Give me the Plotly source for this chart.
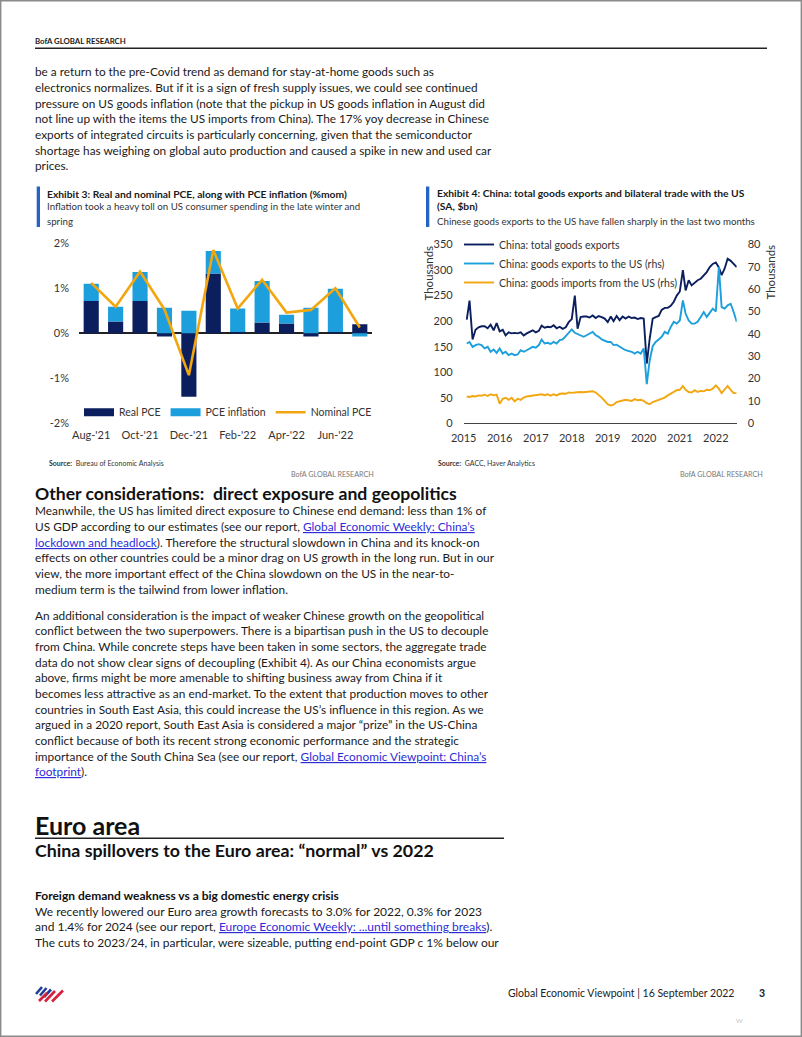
import plotly.graph_objects as go
import pandas as pd

W, H = 802, 1037
FONT = "Lato, 'Open Sans', sans-serif"
TXT = "#1a1a1a"
NAVY = "#0b1f5e"
LBLUE = "#1c9fdc"
ORANGE = "#f2a60f"
LINK = "#2d2dd6"
EXBLUE = "#2563c4"

# ---------------- Exhibit 3 data (% m/m) ----------------
pce_months = ["Aug-'21", "Sep-'21", "Oct-'21", "Nov-'21", "Dec-'21", "Jan-'22",
              "Feb-'22", "Mar-'22", "Apr-'22", "May-'22", "Jun-'22", "Jul-'22"]
real_pce = [0.72, 0.26, 0.72, -0.07, -1.41, 1.33, 0.03, 0.24, 0.22, -0.07, 0.03, 0.20]
pce_inflation = [0.38, 0.33, 0.64, 0.57, 0.50, 0.50, 0.52, 0.92, 0.19, 0.57, 0.96, -0.07]
nominal_pce = [1.12, 0.59, 1.37, 0.53, -0.93, 1.85, 0.55, 1.19, 0.46, 0.52, 1.00, 0.13]
pce_ticks = [-2, -1, 0, 1, 2]

# ---------------- Exhibit 4 data (monthly, Feb 2015 - Aug 2022) ----------------
trade_start = "2015-02-01"
total_exports = [
    203, 240, 164, 183, 188, 190, 190, 186, 193, 182, 196,
    180, 183, 172, 178, 176, 177, 176, 178, 172, 176, 179, 182,
    178, 181, 191, 187, 189, 188, 192, 186, 189, 185, 188, 198,
    204, 250, 185, 208, 209, 209, 207, 211, 206, 210, 208, 205,
    198, 209, 200, 210, 202, 209, 205, 209, 206, 207, 204, 206,
    205, 117, 165, 205, 208, 210, 222, 226, 226, 230, 238, 250,
    258, 300, 260, 280, 270, 275, 280, 283, 289, 296, 306, 312,
    315, 305, 290, 303, 322, 318, 312, 306,
]
exports_to_us = [
    35.7, 36.4, 34.2, 35.0, 35.4, 35.0, 33.5, 34.2, 32.0, 33.0, 31.5,
    33.5, 31.2, 32.0, 30.5, 31.2, 30.5, 30.8, 32.7, 32.0, 32.7, 33.5, 34.2,
    33.8, 35.0, 37.5, 35.7, 36.0, 35.5, 36.4, 35.7, 37.2, 37.5, 39.0, 40.5,
    42.0, 40.5, 40.0, 39.2, 38.7, 39.4, 40.1, 40.9, 39.4, 38.7, 37.5, 36.8,
    36.4, 36.4, 35.0, 35.2, 34.2, 33.5, 32.7, 32.5, 32.0, 31.2, 32.0, 31.2,
    33.5, 17.5, 28.0, 34.5, 36.4, 37.5, 38.7, 40.9, 40.1, 43.1, 45.4, 44.6,
    46.0, 55.0, 49.0, 46.0, 44.6, 44.6, 45.4, 47.6, 49.8, 47.6, 49.8, 51.3,
    50.0, 70.0, 52.0, 51.3, 52.8, 53.5, 49.8, 45.4,
]
imports_from_us = [
    12.0, 11.8, 12.2, 12.0, 12.5, 12.3, 12.8, 12.2, 13.0, 12.5, 12.8,
    8.8, 11.0, 11.4, 10.5, 11.4, 9.8, 11.0, 10.5, 11.5, 12.0, 12.2, 12.4,
    12.5, 12.8, 13.0, 12.6, 13.0, 12.4, 13.0, 12.5, 13.2, 13.3, 13.2, 13.8,
    13.6, 13.8, 14.0, 14.0, 13.9, 14.1, 14.2, 14.3, 13.8, 12.8, 11.5, 10.0,
    8.5, 8.0, 8.3, 9.5, 10.0, 10.2, 10.5, 10.3, 10.0, 10.8, 10.3, 10.5,
    10.0, 9.0, 8.5, 9.5, 10.0, 10.3, 11.0, 11.5, 12.5, 13.3, 14.0, 14.8,
    15.0, 16.7, 15.0, 14.0, 13.8, 14.8, 14.0, 14.5, 14.3, 15.0, 14.8, 15.5,
    17.0, 15.5, 13.5, 15.0, 16.7, 15.0, 13.5, 13.5,
]
trade_dates = pd.date_range(trade_start, periods=len(total_exports), freq="MS")
trade_years = [str(y) for y in range(2015, 2023)]

# ---------------- helpers for page layout ----------------
def fx(x):
    return x / W


def fy(y):
    return 1 - y / H


annotations = []
shapes = []


def text(x, y, s, size=11.5, color=TXT, bold=False, anchor="left", angle=0, family=FONT):
    annotations.append(dict(
        x=fx(x), y=fy(y), xref="paper", yref="paper",
        text=f"<b>{s}</b>" if bold else s, showarrow=False,
        xanchor=anchor, yanchor="middle", textangle=angle,
        font=dict(size=size, color=color, family=family), borderpad=0,
    ))


def link(s):
    return f'<span style="color:{LINK};text-decoration:underline">{s}</span>'


def paragraph(lines, y0, step, size=11.5, x=34):
    for i, ln in enumerate(lines):
        text(x, y0 + i * step, ln, size=size)


def hline(x0, x1, y, color="#222", width=1.5):
    shapes.append(dict(type="line", xref="paper", yref="paper",
                       x0=fx(x0), x1=fx(x1), y0=fy(y), y1=fy(y),
                       line=dict(color=color, width=width)))


def rect(x0, y0, x1, y1, color):
    shapes.append(dict(type="rect", xref="paper", yref="paper",
                       x0=fx(x0), x1=fx(x1), y0=fy(y1), y1=fy(y0),
                       fillcolor=color, line=dict(width=0)))


def stroke(x0, y0, x1, y1, color, width=2.6):
    shapes.append(dict(type="line", xref="paper", yref="paper",
                       x0=fx(x0), x1=fx(x1), y0=fy(y0), y1=fy(y1),
                       line=dict(color=color, width=width)))

# page border
shapes.append(dict(type="rect", xref="paper", yref="paper", x0=fx(0.7), x1=fx(801.3),
                   y0=fy(1036.3), y1=fy(0.7), line=dict(color="#8a8a8a", width=1.4)))

# header
text(34, 41, "BofA GLOBAL RESEARCH", size=7.8, bold=True)
hline(35, 767, 48.3, width=1.6)

para1 = [
    "be a return to the pre-Covid trend as demand for stay-at-home goods such as",
    "electronics normalizes. But if it is a sign of fresh supply issues, we could see continued",
    "pressure on US goods inflation (note that the pickup in US goods inflation in August did",
    "not line up with the items the US imports from China). The 17% yoy decrease in Chinese",
    "exports of integrated circuits is particularly concerning, given that the semiconductor",
    "shortage has weighing on global auto production and caused a spike in new and used car",
    "prices.",
]
paragraph(para1, 71.7, 15.67, size=11.8)

# exhibit headers
rect(36.7, 186.5, 40, 227, EXBLUE)
text(45.5, 193.5, "Exhibit 3: Real and nominal PCE, along with PCE inflation (%mom)", size=10.3, bold=True)
text(45.5, 206.5, "Inflation took a heavy toll on US consumer spending in the late winter and", size=9.7, color="#333")
text(45.5, 220.7, "spring", size=9.7, color="#333")

rect(426, 186.5, 429.3, 227, EXBLUE)
text(435.5, 193.3, "Exhibit 4: China: total goods exports and bilateral trade with the US", size=10.3, bold=True)
text(435.5, 206.3, "(SA, $bn)", size=10.3, bold=True)
text(435.5, 221.3, "Chinese goods exports to the US have fallen sharply in the last two months", size=9.7, color="#333")

# axis titles for exhibit 4
text(428, 272.5, "Thousands", size=11.5, color="#333", anchor="center", angle=-90)
text(770, 272.5, "Thousands", size=11.5, color="#333", anchor="center", angle=-90)

# sources
text(47.5, 463, "<b>Source:</b>  Bureau of Economic Analysis", size=7, color="#333")
text(436.5, 463, "<b>Source:</b>  GACC, Haver Analytics", size=7, color="#333")
text(375, 474, "BofA GLOBAL RESEARCH", size=7.2, color="#777", anchor="right")
text(764, 474, "BofA GLOBAL RESEARCH", size=7.2, color="#777", anchor="right")

# Other considerations
text(34, 493.3, "Other considerations:  direct exposure and geopolitics", size=17.6, bold=True, color="#111")
para2 = [
    "Meanwhile, the US has limited direct exposure to Chinese end demand: less than 1% of",
    "US GDP according to our estimates (see our report, " + link("Global Economic Weekly: China’s"),
    link("lockdown and headlock") + "). Therefore the structural slowdown in China and its knock-on",
    "effects on other countries could be a minor drag on US growth in the long run. But in our",
    "view, the more important effect of the China slowdown on the US in the near-to-",
    "medium term is the tailwind from lower inflation.",
]
paragraph(para2, 511, 15.6, size=11.85)
para3 = [
    "An additional consideration is the impact of weaker Chinese growth on the geopolitical",
    "conflict between the two superpowers. There is a bipartisan push in the US to decouple",
    "from China. While concrete steps have been taken in some sectors, the aggregate trade",
    "data do not show clear signs of decoupling (Exhibit 4). As our China economists argue",
    "above, firms might be more amenable to shifting business away from China if it",
    "becomes less attractive as an end-market. To the extent that production moves to other",
    "countries in South East Asia, this could increase the US’s influence in this region. As we",
    "argued in a 2020 report, South East Asia is considered a major “prize” in the US-China",
    "conflict because of both its recent strong economic performance and the strategic",
    "importance of the South China Sea (see our report, " + link("Global Economic Viewpoint: China’s"),
    link("footprint") + ").",
]
paragraph(para3, 615, 15.67, size=11.85)

# Euro area
text(33.5, 825, "<b>Euro area</b>", size=25, color="#111")
hline(35, 504, 838.3, width=1.6)
text(34, 850, "China spillovers to the Euro area: “normal” vs 2022", size=17.8, bold=True, color="#111")
text(34, 895, "Foreign demand weakness vs a big domestic energy crisis", size=12, bold=True, color="#111")
para4 = [
    "We recently lowered our Euro area growth forecasts to 3.0% for 2022, 0.3% for 2023",
    "and 1.4% for 2024 (see our report, " + link("Europe Economic Weekly: ...until something breaks") + ").",
    "The cuts to 2023/24, in particular, were sizeable, putting end-point GDP c 1% below our",
]
paragraph(para4, 911, 15.67, size=12)

# footer
for (a, b, c, d) in [(36, 994, 42, 987), (40, 995.5, 46.5, 988), (44, 997, 51, 989.5)]:
    stroke(a, b, c, d, "#1f3f99")
for (a, b, c, d) in [(39, 1001, 47, 993), (45, 1001.5, 55, 991), (52, 1001.5, 63, 990.5)]:
    stroke(a, b, c, d, "#d8203a")
text(735, 993.3, "Global Economic Viewpoint | 16 September 2022", size=10.5, color="#222", anchor="right")
text(761.5, 993.3, "3", size=10.5, bold=True, anchor="center")
text(739.5, 1020, "W", size=6.5, color="#c4c4c4", anchor="center")

# ---------------- traces ----------------
fig = go.Figure()

# Exhibit 3 bars + line
fig.add_trace(go.Bar(x=pce_months, y=real_pce, name="Real PCE", marker=dict(color=NAVY, line=dict(width=0)),
                     showlegend=False, xaxis="x", yaxis="y"))
fig.add_trace(go.Bar(x=pce_months, y=pce_inflation, name="PCE inflation", marker=dict(color=LBLUE, line=dict(width=0)),
                     showlegend=False, xaxis="x", yaxis="y"))
fig.add_trace(go.Scatter(x=pce_months, y=nominal_pce, name="Nominal PCE", mode="lines",
                         line=dict(color=ORANGE, width=2.6), showlegend=False, xaxis="x", yaxis="y"))
# legend entries drawn as wide swatches
for nm, col, wd in [("Real PCE", NAVY, 8), ("PCE inflation", LBLUE, 8), ("Nominal PCE", ORANGE, 2.6)]:
    fig.add_trace(go.Scatter(x=[None], y=[None], name=nm, mode="lines", line=dict(color=col, width=wd),
                             xaxis="x", yaxis="y", legend="legend", hoverinfo="skip"))

# Exhibit 4 lines
fig.add_trace(go.Scatter(x=trade_dates, y=total_exports, name="China: total goods exports", mode="lines",
                         line=dict(color=NAVY, width=1.9), xaxis="x2", yaxis="y2", legend="legend2"))
fig.add_trace(go.Scatter(x=trade_dates, y=exports_to_us, name="China: goods exports to the US (rhs)", mode="lines",
                         line=dict(color=LBLUE, width=1.9), xaxis="x2", yaxis="y3", legend="legend2"))
fig.add_trace(go.Scatter(x=trade_dates, y=imports_from_us, name="China: goods imports from the US (rhs)", mode="lines",
                         line=dict(color=ORANGE, width=1.9), xaxis="x2", yaxis="y3", legend="legend2"))

tickfont = dict(family=FONT, size=11, color="#333")

fig.update_layout(
    width=W, height=H, autosize=False,
    margin=dict(l=0, r=0, t=0, b=0, pad=0, autoexpand=False),
    paper_bgcolor="white", plot_bgcolor="rgba(0,0,0,0)",
    font=dict(family=FONT, color=TXT),
    barmode="relative", bargap=0.38,
    xaxis=dict(domain=[fx(79), fx(372)], anchor="y", type="category", automargin=False,
               range=[-0.5, len(pce_months) - 0.5],
               tickmode="array", tickvals=pce_months[::2], ticktext=pce_months[::2],
               showgrid=False, zeroline=False, showline=False, ticks="",
               tickfont=tickfont, ticklabelstandoff=4, fixedrange=True),
    yaxis=dict(domain=[fy(423.3), fy(243.3)], anchor="x", range=[-2, 2], automargin=False,
               tickmode="array", tickvals=pce_ticks, ticktext=[f"{v}%" for v in pce_ticks],
               showgrid=False, zeroline=True, zerolinecolor="#222", zerolinewidth=1.5,
               showline=False, ticks="", tickfont=tickfont, ticklabelstandoff=9, fixedrange=True),
    xaxis2=dict(domain=[fx(463.7), fx(736.7)], anchor="y2", type="date", automargin=False,
                range=["2015-01-01", "2022-08-01"],
                tickmode="array", tickvals=[f"{y}-01-01" for y in trade_years], ticktext=trade_years,
                showgrid=False, zeroline=False, showline=True, linecolor="#444", linewidth=1.3,
                ticks="", tickfont=tickfont, ticklabelstandoff=4, fixedrange=True),
    yaxis2=dict(domain=[fy(423.3), fy(244.5)], anchor="x2", range=[0, 350], dtick=50, automargin=False,
                showgrid=False, zeroline=False, showline=False, ticks="",
                tickfont=tickfont, ticklabelstandoff=10, fixedrange=True),
    yaxis3=dict(overlaying="y2", side="right", anchor="x2", range=[0, 80], dtick=10, automargin=False,
                showgrid=False, zeroline=False, showline=False, ticks="",
                tickfont=tickfont, ticklabelstandoff=10, fixedrange=True),
    legend=dict(orientation="h", x=fx(79), y=fy(412.3), xanchor="left", yanchor="middle",
                bgcolor="rgba(0,0,0,0)", font=dict(family=FONT, size=10.5, color="#333"),
                itemclick=False, itemdoubleclick=False),
    legend2=dict(orientation="v", x=fx(459), y=fy(263.5), xanchor="left", yanchor="middle",
                 bgcolor="rgba(0,0,0,0)", font=dict(family=FONT, size=10.5, color="#333"),
                 itemclick=False, itemdoubleclick=False),
    annotations=annotations,
    shapes=shapes,
    showlegend=True,
)

fig.write_html("out.html", config={"displayModeBar": False},
               post_script="document.body.style.margin='0';document.body.style.overflow='hidden';")
